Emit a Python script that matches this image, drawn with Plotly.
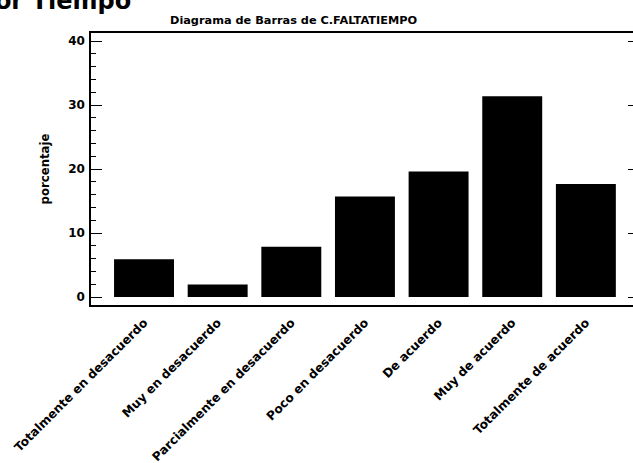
import plotly.graph_objects as go

categorias = ["Totalmente en desacuerdo", "Muy en desacuerdo", "Parcialmente en desacuerdo",
              "Poco en desacuerdo", "De acuerdo", "Muy de acuerdo", "Totalmente de acuerdo"]
porcentaje = [5.88, 1.96, 7.84, 15.69, 19.61, 31.37, 17.65]
titulo = "Diagrama de Barras de C.FALTATIEMPO"
encabezado = "Factor Tiempo"
y_ticks = [0, 10, 20, 30, 40]

W, H = 633, 463
FONT = "DejaVu Sans"

fig = go.Figure()
fig.add_trace(go.Bar(x=categorias, y=porcentaje, width=0.814,
                     marker=dict(color="black", line=dict(width=0)), showlegend=False))
# invisible twin so the mirrored right-hand ticks are drawn
fig.add_trace(go.Bar(x=categorias, y=porcentaje, width=0.814, yaxis="y2", opacity=0,
                     hoverinfo="skip", showlegend=False))

fig.update_layout(
    width=W, height=H,
    margin=dict(l=91, r=0, t=33, b=158, autoexpand=False),
    paper_bgcolor="white", plot_bgcolor="white",
    barmode="overlay",
    font=dict(family=FONT, color="black"),
    xaxis=dict(range=[-0.72, 6.64], showline=True, linecolor="black", linewidth=1.5,
               mirror=True, ticks="", showgrid=False, zeroline=False, automargin=False,
               tickangle=-45, ticklabelstandoff=4,
               tickfont=dict(family=FONT, size=12.2, weight="bold")),
    yaxis=dict(range=[-1.25, 41.25], tickvals=y_ticks, showline=True, linecolor="black",
               linewidth=1.5, ticks="inside", ticklen=11, tickwidth=1, tickcolor="black",
               minor=dict(dtick=2, ticks="inside", ticklen=5, tickwidth=1, tickcolor="black"),
               showgrid=False, zeroline=False, ticklabelstandoff=2, automargin=False,
               tickfont=dict(family=FONT, size=12, weight="bold"),
               title=dict(text="porcentaje", font=dict(family=FONT, size=11.7, weight="bold"),
                          standoff=16)),
    yaxis2=dict(range=[-1.25, 41.25], overlaying="y", side="right", tickvals=y_ticks,
                ticks="inside", ticklen=5, tickwidth=1, tickcolor="black", automargin=False,
                showticklabels=False, showline=False, showgrid=False, zeroline=False),
)

fig.add_annotation(text=titulo, xref="paper", yref="paper",
                   x=(293.5 - 91) / 542, y=1 + (33 - 20.5) / 272, xanchor="center", yanchor="middle",
                   showarrow=False, font=dict(family=FONT, size=11.3, weight="bold"))
fig.add_annotation(text=encabezado, xref="paper", yref="paper",
                   x=(133 - 91) / 542, y=1 + (33 - 1) / 272, xanchor="right", yanchor="middle",
                   showarrow=False, font=dict(family=FONT, size=24, weight="bold"))

fig.write_html("out.html")
